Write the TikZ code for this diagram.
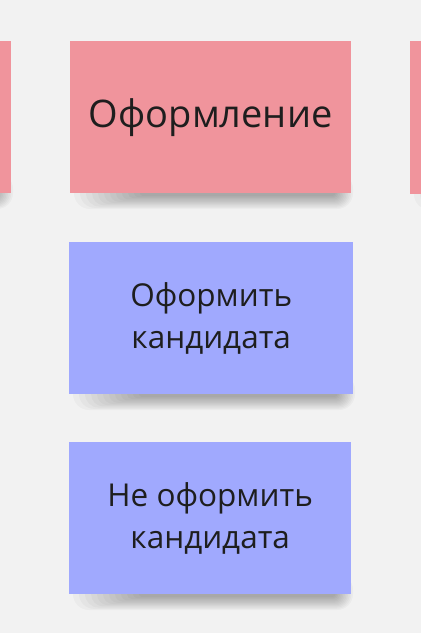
\documentclass[tikz,border=0pt]{standalone}
\usepackage{fontspec}
\setmainfont{Open Sans}
\definecolor{bg}{HTML}{F2F2F2}
\definecolor{pinknote}{HTML}{F0949C}
\definecolor{bluenote}{HTML}{A0A9FE}
\definecolor{inkc}{HTML}{1E1E1E}
\tikzset{
  note/.style={minimum width=281pt, minimum height=152pt, inner sep=0pt, align=center, text=inkc, anchor=north west},
  pinkn/.style={note, fill=pinknote, font=\fontsize{38}{52}\selectfont},
  bluen/.style={note, fill=bluenote, font=\fontsize{31.5}{41.5}\selectfont},
  shade1/.style={fill=black, opacity=0.028}
}
\newcommand{\noteshadow}[3]{%
  \foreach \i in {0,...,11}{%
    \pgfmathsetmacro{\rr}{max(1,16-1.2*\i)}%
    \fill[shade1, rounded corners=\rr pt] (#1+4+6*\i,#3-20) rectangle (#2+2-1.6*\i,#3+\rr);
  }%
}
\begin{document}
\begin{tikzpicture}[x=1pt,y=-1pt]
\fill[bg] (0,0) rectangle (421,633);
\useasboundingbox (0,0) rectangle (421,633);
\clip (0,0) rectangle (421,633);
% shadows
\noteshadow{-270}{11}{193}
\noteshadow{70}{351}{193}
\noteshadow{410}{690}{194}
\noteshadow{69}{353}{394}
\noteshadow{69}{351}{594}
% notes
\node[pinkn, minimum width=281pt] (pl) at (-270,41) {};
\node[pinkn, minimum width=281pt] (pc) at (70,41) {Оформление};
\node[pinkn, minimum width=281pt, minimum height=153pt] (pr) at (410,41) {};
\node[bluen, minimum width=284pt] (b1) at (69,242) {Оформить\\кандидата};
\node[bluen, minimum width=282pt] (b2) at (69,442) {Не оформить\\кандидата};
\end{tikzpicture}
\end{document}
